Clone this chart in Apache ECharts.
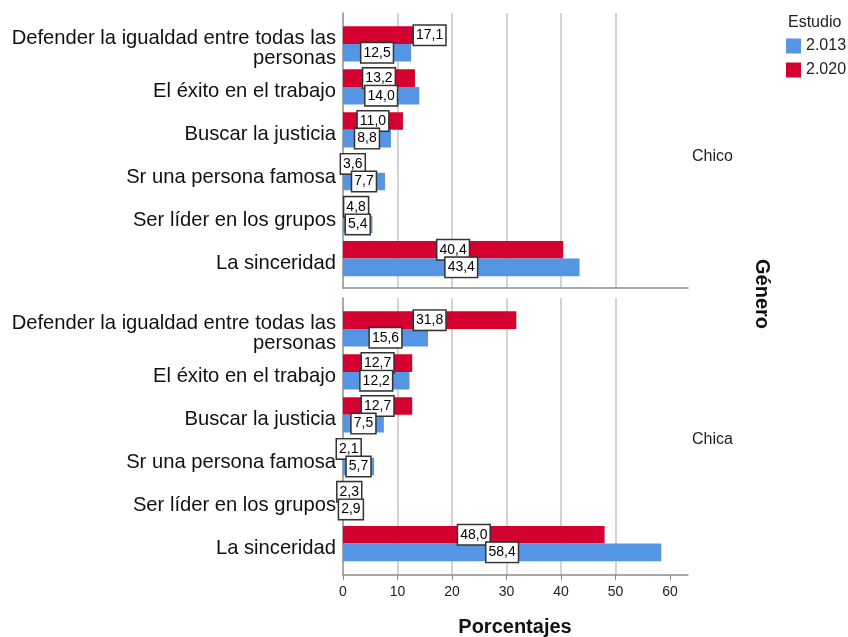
<!DOCTYPE html>
<html>
<head>
<meta charset="utf-8">
<script src="https://cdn.jsdelivr.net/npm/echarts@6/dist/echarts.min.js"></script>
<style>html,body{margin:0;padding:0;background:#fff}#c{width:848px;height:637px}</style>
</head>
<body>
<div id="c"></div>
<script>
var categories = ['Defender la igualdad entre todas las\npersonas', 'El éxito en el trabajo', 'Buscar la justicia', 'Sr una persona famosa', 'Ser líder en los grupos', 'La sinceridad'];
var panels = ['Chico', 'Chica'];
var studies = ['2.013', '2.020'];
var chico2013 = [12.5, 14.0, 8.8, 7.7, 5.4, 43.4];
var chico2020 = [17.1, 13.2, 11.0, 3.6, 4.8, 40.4];
var chica2013 = [15.6, 12.2, 7.5, 5.7, 2.9, 58.4];
var chica2020 = [31.8, 12.7, 12.7, 2.1, 2.3, 48.0];
var xTicks = [0, 10, 20, 30, 40, 50, 60];

var BLUE = '#5596e4', RED = '#d4002f';
var FONT = 'Liberation Sans, Arial, sans-serif';
var XMAX = 63.3;

var chart = echarts.init(document.getElementById('c'), null, {renderer: 'canvas'});

function labelOpt() {
  return {
    show: true, position: 'inside', color: '#000', fontSize: 14, fontFamily: FONT,
    backgroundColor: '#fff', borderColor: '#333', borderWidth: 1.5, padding: [3, 2, 2, 2],
    formatter: function (p) { return p.value.toFixed(1).replace('.', ','); }
  };
}
function mk(arr, shiftFirst) {
  return arr.map(function (v, i) {
    if (shiftFirst && i === 0) return {value: v, label: {offset: [40, 0]}};
    return v;
  });
}

var grids = [
  {left: 343, right: 160, top: 13, height: 275},
  {left: 343, right: 160, top: 298, height: 277},
  {left: 343, right: 160, top: 22.5, height: 257.5},
  {left: 343, right: 160, top: 307.5, height: 257.5},
  {left: 343, right: 160, top: 27, height: 257.5},
  {left: 343, right: 160, top: 312, height: 257.5}
];
var xAxes = [0, 1].map(function (g) {
  return {
    type: 'value', gridIndex: g, min: 0, max: XMAX, interval: 10,
    axisLine: {show: true, lineStyle: {color: '#8c8c8c', width: 1.5}},
    axisTick: {show: g === 1, length: 5, customValues: xTicks, lineStyle: {color: '#8c8c8c'}},
    axisLabel: {show: g === 1, color: '#222', fontSize: 14, fontFamily: FONT, margin: 10, customValues: xTicks},
    splitLine: {show: true, showMinLine: false, showMaxLine: false, lineStyle: {color: '#d4d4d4', width: 2}}
  };
}).concat([2, 3, 4, 5].map(function (g) {
  return {type: 'value', gridIndex: g, min: 0, max: XMAX, show: false};
}));
var yAxes = [0, 1].map(function (g) {
  return {
    type: 'value', gridIndex: g, min: 0, max: 1,
    axisLine: {show: true, lineStyle: {color: '#8c8c8c', width: 1.5}},
    axisTick: {show: false}, axisLabel: {show: false}, splitLine: {show: false}
  };
}).concat([2, 3].map(function (g) {
  return {
    type: 'category', gridIndex: g, data: categories, inverse: true,
    axisLine: {show: false}, axisTick: {show: false}, axisLabel: {show: false}
  };
})).concat([4, 5].map(function (g) {
  return {
    type: 'category', gridIndex: g, data: categories, inverse: true,
    axisLine: {show: false}, axisTick: {show: false}, splitLine: {show: false},
    axisLabel: {color: '#111', fontSize: 20.2, fontFamily: FONT, lineHeight: 20, margin: 7, align: 'right'}
  };
}));

var series = [];
[[chico2020, chico2013], [chica2020, chica2013]].forEach(function (pair, g) {
  series.push({name: studies[1], type: 'bar', xAxisIndex: g + 2, yAxisIndex: g + 2, data: mk(pair[0], g === 0),
    itemStyle: {color: RED}, barGap: '0%', barCategoryGap: '18%', label: labelOpt()});
  series.push({name: studies[0], type: 'bar', xAxisIndex: g + 2, yAxisIndex: g + 2, data: mk(pair[1], false),
    itemStyle: {color: BLUE}, barGap: '0%', barCategoryGap: '18%', label: labelOpt()});
});

chart.setOption({
  animation: false,
  backgroundColor: '#fff',
  grid: grids,
  xAxis: xAxes,
  yAxis: yAxes,
  legend: {
    data: studies, orient: 'vertical', left: 786, top: 38, itemWidth: 15, itemHeight: 15, itemGap: 8,
    icon: 'rect', textStyle: {color: '#222', fontSize: 16, fontFamily: FONT}, padding: 0
  },
  series: series,
  graphic: [
    {type: 'text', left: 788, top: 15, style: {text: 'Estudio', fill: '#222', font: '16px ' + FONT}},
    {type: 'text', left: 692, top: 149, style: {text: panels[0], fill: '#222', font: '16px ' + FONT}},
    {type: 'text', left: 692, top: 432, style: {text: panels[1], fill: '#222', font: '16px ' + FONT}},
    {type: 'text', x: 515, y: 627, style: {text: 'Porcentajes', fill: '#111', font: 'bold 20px ' + FONT, align: 'center', verticalAlign: 'middle'}},
    {type: 'text', x: 762, y: 294, rotation: -Math.PI / 2, style: {text: 'Género', fill: '#111', font: 'bold 20px ' + FONT, align: 'center', verticalAlign: 'middle'}}
  ]
});
</script>
</body>
</html>
